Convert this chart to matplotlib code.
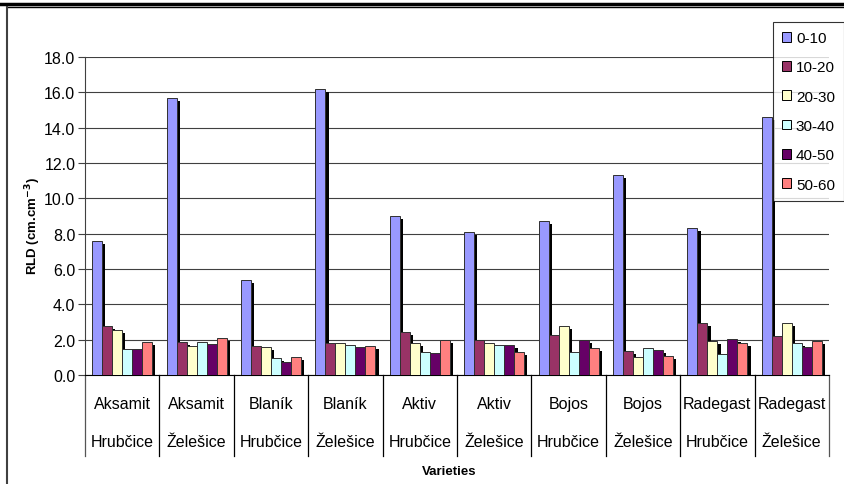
import matplotlib.pyplot as plt
import matplotlib.patches as mpatches
from matplotlib.lines import Line2D
import numpy as np

plt.rcParams["font.family"] = ["Liberation Sans", "DejaVu Sans"]

varieties = ["Aksamit", "Aksamit", "Blaník", "Blaník", "Aktiv", "Aktiv",
             "Bojos", "Bojos", "Radegast", "Radegast"]
sites = ["Hrubčice", "Želešice", "Hrubčice", "Želešice", "Hrubčice", "Želešice",
         "Hrubčice", "Želešice", "Hrubčice", "Želešice"]
depths = ["0-10", "10-20", "20-30", "30-40", "40-50", "50-60"]

d0_10 = [7.6, 15.7, 5.4, 16.2, 9.0, 8.1, 8.7, 11.3, 8.3, 14.6]
d10_20 = [2.75, 1.88, 1.66, 1.79, 2.45, 1.96, 2.28, 1.34, 2.94, 2.19]
d20_30 = [2.55, 1.66, 1.58, 1.79, 1.81, 1.79, 2.77, 1.02, 1.90, 2.94]
d30_40 = [1.49, 1.88, 0.94, 1.72, 1.32, 1.72, 1.32, 1.51, 1.17, 1.83]
d40_50 = [1.50, 1.73, 0.72, 1.58, 1.25, 1.72, 1.96, 1.43, 2.05, 1.58]
d50_60 = [1.88, 2.11, 1.04, 1.64, 1.98, 1.32, 1.51, 1.09, 1.83, 1.92]

series = [d0_10, d10_20, d20_30, d30_40, d40_50, d50_60]
colors = ["#9999FF", "#993366", "#FFFFCC", "#CCFFFF", "#660066", "#FF8080"]

W, H = 845, 485
fig = plt.figure(figsize=(W / 100, H / 100), dpi=100)

# outer chart frame
fig.add_artist(Line2D([0, 1], [1 - 5 / H, 1 - 5 / H], color="black", lw=2.5))
fig.add_artist(Line2D([7 / W, 1], [1 - 8 / H, 1 - 8 / H], color="black", lw=1))
fig.add_artist(Line2D([7 / W, 7 / W], [0, 1 - 8 / H], color="#404040", lw=1.5))

left, right, top, bottom = 85, 829, 58, 376
ax = fig.add_axes([left / W, 1 - bottom / H, (right - left) / W, (bottom - top) / H])

n = len(varieties)
x = np.arange(n)
width = 10 / 74.4
start = (1 - 6 * width) / 2
dx = 3.3 / 74.4
dy = 3.0 / 17.67

for k, (vals, c) in enumerate(zip(series, colors)):
    pos = x + start + k * width
    ax.bar(pos + dx, np.array(vals) - dy, width, align="edge", color="black",
           zorder=2)
for k, (vals, c) in enumerate(zip(series, colors)):
    pos = x + start + k * width
    ax.bar(pos, vals, width, align="edge", color=c, edgecolor="#303030",
           linewidth=0.7, zorder=3)

ax.set_xlim(0, n)
ax.set_ylim(0, 18)
ax.set_yticks(np.arange(0, 19, 2))
ax.set_yticklabels(["%.1f" % v for v in np.arange(0, 19, 2)], fontsize=11.5)
ax.yaxis.grid(True, color="#404040", linewidth=0.8)
ax.set_axisbelow(True)
ax.set_xticks([])
for s in ["top", "right"]:
    ax.spines[s].set_visible(False)
ax.spines["left"].set_color("#404040")
ax.spines["bottom"].set_color("black")
ax.tick_params(axis="y", length=5, width=0.8, color="#404040", pad=2)

# category axis labels and separators
px = 17.67
for i in range(n + 1):
    ax.plot([i, i], [0, -81 / px], color="#555555" if i in (0, n) else "black",
            lw=0.9, clip_on=False)
for i in range(n):
    ax.text(i + 0.5, -29 / px, varieties[i], ha="center", va="center", fontsize=11.5)
    ax.text(i + 0.5, -67 / px, sites[i], ha="center", va="center", fontsize=11.5)

fig.text(449 / W, 1 - 472 / H, "Varieties", ha="center", va="center",
         fontsize=9.5, fontweight="bold")
fig.text(33 / W, 1 - 226 / H, "RLD (cm.cm$^{\\mathbf{-3}}$)", ha="center", va="center",
         rotation=90, fontsize=9.5, fontweight="bold")

handles = [mpatches.Patch(facecolor=c, edgecolor="black", linewidth=0.7) for c in colors]
leg = fig.legend(handles, depths, loc="upper left",
                 bbox_to_anchor=(773 / W, 1 - 23 / H), fontsize=11,
                 frameon=True, fancybox=False, edgecolor="black",
                 handlelength=0.6, handleheight=0.6, handletextpad=0.3,
                 labelspacing=1.0, borderpad=0.6, borderaxespad=0)
leg.get_frame().set_linewidth(0.8)

fig.savefig("out.png", dpi=100)
